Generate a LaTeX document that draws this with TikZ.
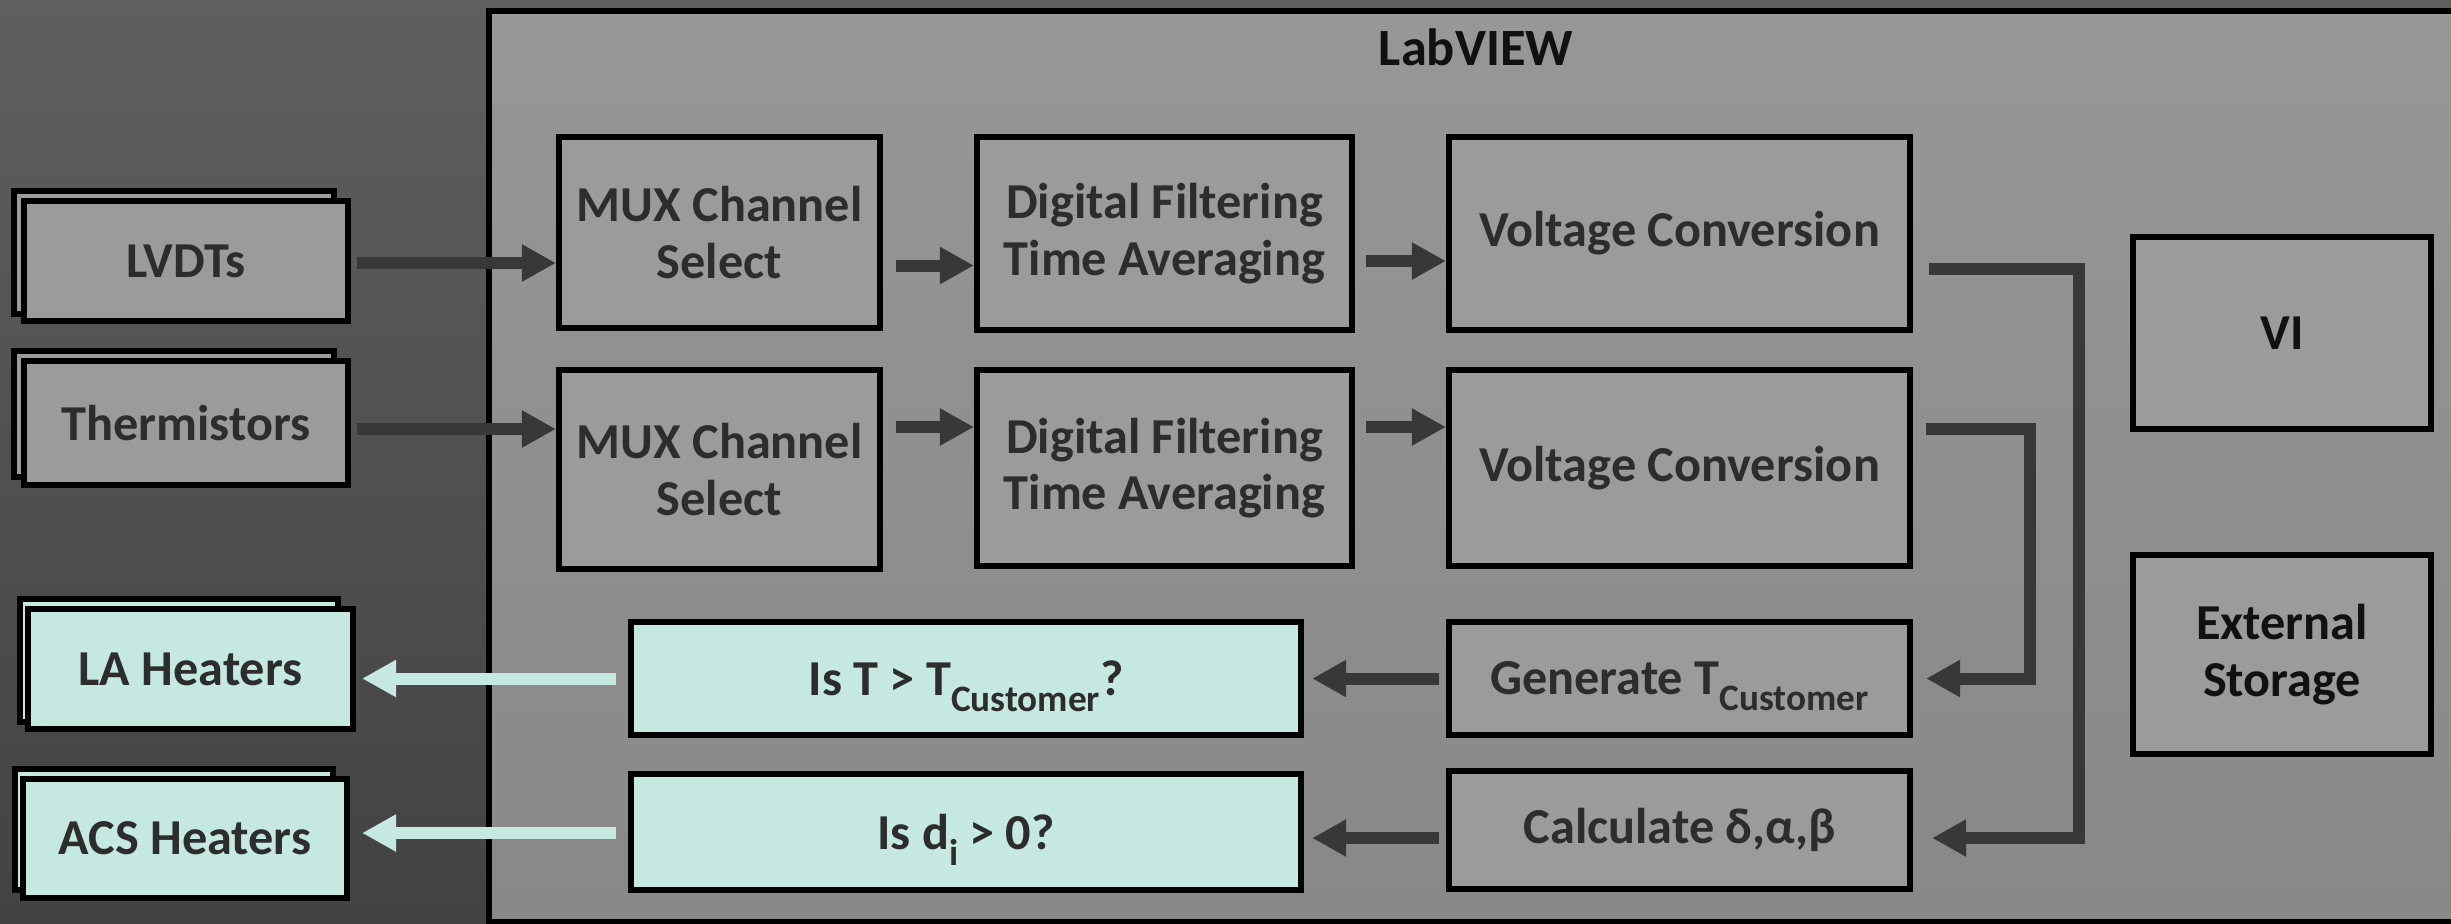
\documentclass[tikz,border=0pt]{standalone}
\usepackage{fontspec}
\setmainfont{Carlito}
\usetikzlibrary{arrows.meta,calc}
\definecolor{bgtop}{HTML}{5F5F5F}
\definecolor{bgbot}{HTML}{424242}
\definecolor{frtop}{HTML}{979797}
\definecolor{frbot}{HTML}{888888}
\definecolor{boxgrey}{HTML}{9B9B9B}
\definecolor{mintc}{HTML}{C5E9E0}
\definecolor{arrc}{HTML}{383838}
\definecolor{txt}{HTML}{2D2D2D}
\definecolor{ttl}{HTML}{111111}
\newcommand\mysub[1]{\raisebox{-0.32em}[0pt][0pt]{\fontsize{10.6}{11}\selectfont #1}}
\begin{document}
\begin{tikzpicture}[x=0.01cm,y=-0.01cm,
  lbl/.style={font=\fontsize{14.3}{16}\selectfont\bfseries},
  box/.style={lbl,draw=black,line width=0.06cm,fill=boxgrey,text=txt,align=center,inner sep=0pt},
  mbox/.style={box,fill=mintc},
  darr/.style={draw=arrc,line width=0.12cm,-{Triangle[length=0.34cm,width=0.35cm]}},
  marr/.style={draw=mintc,line width=0.12cm,-{Triangle[length=0.34cm,width=0.35cm]}}]
\useasboundingbox (0,0) rectangle (2451,923);
\clip (0,0) rectangle (2451,923);
\fill[top color=bgtop,bottom color=bgbot] (0,0) rectangle (2451,923);
% LabVIEW frame
\draw[line width=0.06cm,top color=frtop,bottom color=frbot] (489,11) rectangle (2480,922);
\node[font=\fontsize{14.9}{16}\selectfont\bfseries,text=ttl] (title) at (1476,47) {LabVIEW};
% left stacked boxes
\node[box,minimum width=3.20cm,minimum height=1.23cm] (lvb) at (174,252.5) {};
\node[box,minimum width=3.24cm,minimum height=1.20cm] (lvf) at (186,261) {LVDTs};
\node[box,minimum width=3.20cm,minimum height=1.26cm] (thb) at (174,414) {};
\node[box,minimum width=3.24cm,minimum height=1.24cm] (thf) at (186,423) {Thermistors};
\node[mbox,minimum width=3.18cm,minimum height=1.23cm] (lab) at (179,660.5) {};
\node[mbox,minimum width=3.25cm,minimum height=1.20cm] (laf) at (190.5,669) {LA Heaters};
\node[mbox,minimum width=3.18cm,minimum height=1.21cm] (acsb) at (174,829.5) {};
\node[mbox,minimum width=3.24cm,minimum height=1.19cm] (acsf) at (185,838.5) {ACS Heaters};
% processing boxes
\node[box,minimum width=3.21cm,minimum height=1.91cm] (mux1) at (719.5,232.5) {MUX Channel\\Select};
\node[box,minimum width=3.75cm,minimum height=1.93cm] (dig1) at (1164.5,233.5) {Digital Filtering\\Time Averaging};
\node[box,minimum width=4.61cm,minimum height=1.93cm] (v1) at (1679.5,233.5) {Voltage Conversion};
\node[box,minimum width=3.21cm,minimum height=1.99cm] (mux2) at (719.5,469.5) {MUX Channel\\Select};
\node[box,minimum width=3.75cm,minimum height=1.96cm] (dig2) at (1164.5,468) {Digital Filtering\\Time Averaging};
\node[box,minimum width=4.61cm,minimum height=1.96cm] (v2) at (1679.5,468) {Voltage Conversion};
\node[mbox,minimum width=6.70cm,minimum height=1.13cm] (ist) at (966,678.5) {Is T > T\mysub{Customer}?};
\node[box,minimum width=4.61cm,minimum height=1.13cm] (gen) at (1679.5,678.5) {Generate T\mysub{Customer}};
\node[mbox,minimum width=6.70cm,minimum height=1.16cm] (isd) at (966,832) {Is d\mysub{i} > 0?};
\node[box,minimum width=4.61cm,minimum height=1.18cm] (calc) at (1679.5,830) {Calculate δ,α,β};
\node[box,text=ttl,minimum width=2.98cm,minimum height=1.92cm] (vi) at (2282,333) {VI};
\node[box,text=ttl,minimum width=2.98cm,minimum height=1.99cm] (ext) at (2282,654.5) {External\\Storage};
% connectors
\draw[darr] ($(lvf.east)+(6,2)$) -- ($(lvf.east -| mux1.west)+(0,2)$);
\draw[darr] ($(thf.east)+(6,6)$) -- ($(thf.east -| mux2.west)+(0,6)$);
\draw[darr] ($(mux1.east)+(13,33)$) -- ($(mux1.east -| dig1.west)+(0,33)$);
\draw[darr] ($(dig1.east)+(11,27.5)$) -- ($(dig1.east -| v1.west)+(0,27.5)$);
\draw[darr] ($(mux2.east)+(13,-42.5)$) -- ($(mux2.east -| dig2.west)+(0,-42.5)$);
\draw[darr] ($(dig2.east)+(11,-41)$) -- ($(dig2.east -| v2.west)+(0,-41)$);
\draw[darr] ($(v1.east)+(16,35.5)$) -- ++(150,0) |- ($(calc.east)+(19,8)$);
\draw[darr] ($(v2.east)+(13,-39)$) -- ++(104,0) |- ($(gen.east)+(13,0)$);
\draw[darr] ($(gen.west)+(-7,0)$) -- ($(gen.west -| ist.east)+(8,0)$);
\draw[darr] ($(calc.west)+(-7,8)$) -- ($(calc.west -| isd.east)+(8,8)$);
\draw[marr] ($(ist.west)+(-12,0)$) -- ($(ist.west -| laf.east)+(6,0)$);
\draw[marr] ($(isd.west)+(-12,1)$) -- ($(isd.west -| acsf.east)+(12,1)$);
\end{tikzpicture}
\end{document}
